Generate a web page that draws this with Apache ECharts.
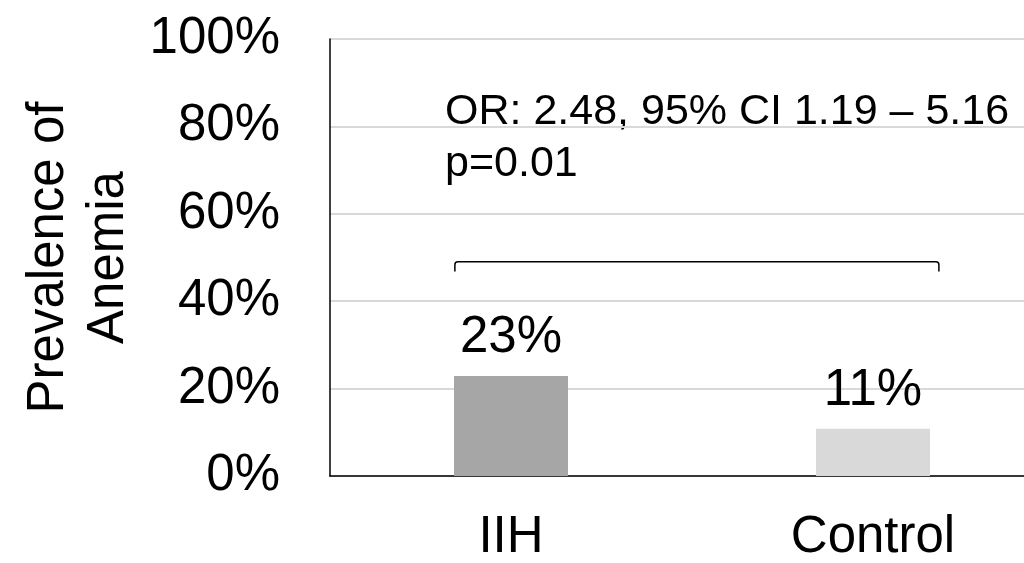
<!DOCTYPE html>
<html>
<head>
<meta charset="utf-8">
<script src="https://cdn.jsdelivr.net/npm/echarts@6/dist/echarts.min.js"></script>
<style>
html,body{margin:0;padding:0;background:#fff;}
#chart{width:1024px;height:563px;}
</style>
</head>
<body>
<div id="chart"></div>
<script>
const categories = ['IIH', 'Control'];
const prevalence = [22.9, 10.8];
const valueLabels = ['23%', '11%'];
const barColors = ['#a6a6a6', '#d9d9d9'];
const yTicks = [0, 20, 40, 60, 80, 100];
const annotationLines = ['OR: 2.48, 95% CI 1.19 \u2013 5.16', 'p=0.01'];
const bracketLevel = [49, 46.8]; // top of bracket, bottom of its ends (value units)

const FONT = '"Liberation Sans", Arial, sans-serif';
const chart = echarts.init(document.getElementById('chart'));

const option = {
  animation: false,
  grid: { left: 330, right: -30, top: 39, bottom: 87, containLabel: false, outerBoundsMode: 'none' },
  xAxis: {
    type: 'category',
    data: categories,
    axisLine: { show: true, lineStyle: { color: '#000', width: 1.5 } },
    axisTick: { show: false },
    axisLabel: { color: '#000', fontSize: 51, fontFamily: FONT, margin: 36 }
  },
  yAxis: {
    type: 'value',
    min: 0, max: 100, interval: 20,
    name: 'Prevalence of\nAnemia',
    nameLocation: 'middle',
    nameRotate: 90,
    nameGap: 188,
    nameTextStyle: { color: '#000', fontSize: 51, fontFamily: FONT, lineHeight: 60 },
    axisLine: { show: true, lineStyle: { color: '#000', width: 1.5 } },
    axisTick: { show: false },
    splitLine: { lineStyle: { color: '#d9d9d9', width: 2 } },
    axisLabel: {
      color: '#000', fontSize: 51, fontFamily: FONT, margin: 50,
      formatter: v => yTicks.includes(v) ? v + '%' : ''
    }
  },
  series: [
    {
      type: 'bar',
      barWidth: '31.5%',
      data: prevalence.map((v, i) => ({ value: v, itemStyle: { color: barColors[i] } })),
      label: {
        show: true, position: 'top', distance: 12,
        color: '#000', fontSize: 51, fontFamily: FONT,
        formatter: p => valueLabels[p.dataIndex]
      }
    },
    {
      type: 'custom',
      silent: true,
      data: [[0, 1]],
      renderItem: function (params, api) {
        const band = api.size([1, 0])[0];
        const a = api.coord([categories[0], bracketLevel[0]]);
        const b = api.coord([categories[1], bracketLevel[0]]);
        const yDrop = api.coord([categories[0], bracketLevel[1]])[1];
        const x1 = a[0] - band * 0.155;
        const x2 = b[0] + band * 0.182;
        const y = a[1];
        const r = 3;
        return {
          type: 'path',
          shape: {
            pathData: `M${x1},${yDrop} L${x1},${y + r} Q${x1},${y} ${x1 + r},${y} L${x2 - r},${y} Q${x2},${y} ${x2},${y + r} L${x2},${yDrop}`
          },
          style: { stroke: '#000', fill: null, lineWidth: 1.5 }
        };
      }
    }
  ],
  graphic: [
    {
      type: 'text', left: 445, top: 86,
      style: {
        text: annotationLines.join('\n'),
        fill: '#000', font: '43px ' + FONT, lineHeight: 52
      }
    }
  ]
};
chart.setOption(option);
</script>
</body>
</html>
